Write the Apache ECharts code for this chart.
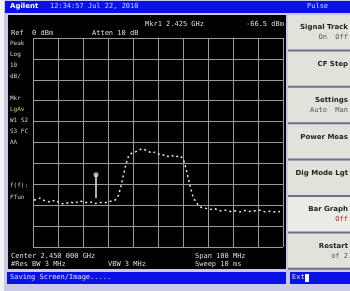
<!DOCTYPE html>
<html>
<head>
<meta charset="utf-8">
<script src="https://cdn.jsdelivr.net/npm/echarts@6/dist/echarts.min.js"></script>
<style>
  html, body { margin: 0; padding: 0; background: #f2f2f4; }
  #chart { width: 350px; height: 291px; }
</style>
</head>
<body>
<div id="chart"></div>
<script>
    // trace, x in sweep points (0..1000), y in dBm
    var traceX = [4, 28, 48, 68, 88, 108, 128, 148, 168, 188, 208, 228, 248, 268, 288, 308, 328,
        341, 351, 361, 372, 383, 395, 408, 421, 435, 448, 461, 475, 488, 501, 515, 528, 541, 555,
        568, 588, 601, 609, 619, 628, 639, 652, 668, 688, 708, 728, 748, 768, 788, 808, 828, 848,
        868, 888, 908, 928, 948, 968, 988];
    var traceY = [-77.6, -76.6, -77.9, -78.5, -77.6, -79, -79.5, -78.5, -79, -77.9, -78.8, -78.4,
        -79.2, -78.7, -78.8, -78.2, -77.6, -75.5, -71.5, -65.9, -60.3, -56.3, -55.1, -54.6, -53.8,
        -53, -53.5, -54.2, -55.1, -54.6, -55.4, -56.2, -55.8, -56.7, -56.2, -57, -56.4, -57.9,
        -61.1, -65.9, -70.7, -75.5, -78.7, -80.8, -81.4, -82, -81.7, -82.7, -82.4, -83, -82.7,
        -83.2, -82.5, -83, -82.7, -82.4, -83.2, -82.9, -83.3, -83];
    var markerX = [252, 252];
    var markerY = [-65.4, -76.5];

    var leftLabels = ['Peak', 'Log', '10', 'dB/', '', 'Mkr', 'LgAv', 'W1 S2', 'S3 FC', 'AA', '', 'f(f):', 'FTun'];
    var keyLabels = [
        ['Signal Track', 'On  Off'],
        ['CF Step', ''],
        ['Settings', 'Auto  Man'],
        ['Power Meas', ''],
        ['Dig Mode Lgt', ''],
        ['Bar Graph', 'Off'],
        ['Restart', 'of 2']
    ];

    var myChart = echarts.init(document.getElementById('chart'));

    function zip(a, b){
        var out = [];
        for(var i = 0; i < a.length; i++){
            out.push([a[i], b[i]]);
        }
        return out;
    }

    var font = '7px "DejaVu Sans Mono"';
    var graphics = [
        // frame pieces
        { type: 'rect', z: -20, shape: { x: 4, y: 0, width: 346, height: 291 }, style: { fill: '#c9c9e6' } },
        { type: 'rect', z: -19, shape: { x: 5, y: 1, width: 345, height: 12 }, style: { fill: '#0a10e8' } },
        { type: 'rect', z: -19, shape: { x: 8, y: 15, width: 278, height: 254 }, style: { fill: '#000' } },
        { type: 'rect', z: -19, shape: { x: 7, y: 272, width: 279, height: 12 }, style: { fill: '#0a10e8' } },
        { type: 'rect', z: -19, shape: { x: 290, y: 272, width: 60, height: 12 }, style: { fill: '#0a10e8' } },
        { type: 'rect', z: -19, shape: { x: 305, y: 274, width: 4, height: 8 }, style: { fill: '#fff' } },
        { type: 'text', z: 5, style: { text: 'Agilent', x: 10, y: 3, fill: '#fff', font: 'bold 7px "DejaVu Sans"' } },
        { type: 'text', z: 5, style: { text: '12:34:57 Jul 22, 2010', x: 50, y: 3, fill: '#c8d0ff', font: font } },
        { type: 'text', z: 5, style: { text: 'Pulse', x: 307, y: 3, fill: '#d8dcff', font: font } },
        { type: 'text', z: 5, style: { text: 'Saving Screen/Image.....', x: 10, y: 274, fill: '#e0e4ff', font: font } },
        { type: 'text', z: 5, style: { text: 'Ext', x: 292, y: 274, fill: '#e0e4ff', font: font } },
        // screen annotations
        { type: 'text', z: 5, style: { text: 'Mkr1 2.425 GHz', x: 145, y: 21, fill: '#ddd', font: font } },
        { type: 'text', z: 5, style: { text: '-66.5 dBm', x: 246, y: 21, fill: '#ddd', font: font } },
        { type: 'text', z: 5, style: { text: 'Ref  0 dBm', x: 11, y: 30, fill: '#ddd', font: font } },
        { type: 'text', z: 5, style: { text: 'Atten 10 dB', x: 92, y: 30, fill: '#ddd', font: font } },
        { type: 'text', z: 5, style: { text: 'Center 2.450 000 GHz', x: 11, y: 253, fill: '#ddd', font: font } },
        { type: 'text', z: 5, style: { text: 'Span 100 MHz', x: 195, y: 253, fill: '#ddd', font: font } },
        { type: 'text', z: 5, style: { text: '#Res BW 3 MHz', x: 11, y: 261, fill: '#ddd', font: font } },
        { type: 'text', z: 5, style: { text: 'VBW 3 MHz', x: 108, y: 261, fill: '#ddd', font: font } },
        { type: 'text', z: 5, style: { text: 'Sweep 10 ms', x: 195, y: 261, fill: '#ddd', font: font } }
    ];

    leftLabels.forEach(function(t, i){
        var y = i < 10 ? 40 + i * 11 : 170 + (i - 10) * 12;
        graphics.push({ type: 'text', z: 5, style: { text: t, x: 10, y: y, fill: i === 6 ? '#d6d070' : '#ccc', font: '6px "DejaVu Sans Mono"' } });
    });

    // softkey panel
    var keyTop = 15, keyH = 36.4;
    keyLabels.forEach(function(k, i){
        var y = keyTop + i * keyH;
        graphics.push({ type: 'rect', z: -18, shape: { x: 288, y: y, width: 62, height: keyH }, style: { fill: i === 5 ? '#ecece6' : '#e2e2da' } });
        graphics.push({ type: 'rect', z: -17, shape: { x: 288, y: y + keyH - 2, width: 62, height: 2 }, style: { fill: '#6f6f94' } });
        graphics.push({ type: 'text', z: 5, style: { text: k[0], x: 348, y: y + 9, align: 'right', fill: '#222', font: 'bold 7px "DejaVu Sans"' } });
        if(k[1]){
            graphics.push({ type: 'text', z: 5, style: { text: k[1], x: 348, y: y + 19, align: 'right', fill: i === 5 ? '#c02020' : '#555', font: font } });
        }
    });

    var option = {
        animation: false,
        backgroundColor: '#f2f2f4',
        graphic: graphics,
        grid: { left: 33, top: 38, width: 250, height: 209 },
        xAxis: {
            type: 'value', min: 0, max: 1000, interval: 100,
            axisLine: { show: false }, axisTick: { show: false }, axisLabel: { show: false },
            splitLine: { show: true, lineStyle: { color: '#9a9a9a', width: 1 } }
        },
        yAxis: {
            type: 'value', min: -100, max: 0, interval: 10,
            axisLine: { show: false }, axisTick: { show: false }, axisLabel: { show: false },
            splitLine: { show: true, lineStyle: { color: '#9a9a9a', width: 1 } }
        },
        series: [{
            name: 'trace',
            type: 'line',
            data: zip(traceX, traceY),
            symbol: 'none',
            lineStyle: { color: '#e8e8e8', width: 1.5, type: [2, 3] },
            z: 3
        },{
            name: 'marker',
            type: 'line',
            data: zip(markerX, markerY),
            symbol: 'none',
            lineStyle: { color: '#e8e8e8', width: 1.5 },
            z: 3
        },{
            name: 'markerDot',
            type: 'scatter',
            data: [[markerX[0], markerY[0]]],
            symbol: 'circle',
            symbolSize: 5,
            itemStyle: { color: '#d8d8d8' },
            z: 4
        }]
    };

    myChart.setOption(option);
</script>
</body>
</html>
